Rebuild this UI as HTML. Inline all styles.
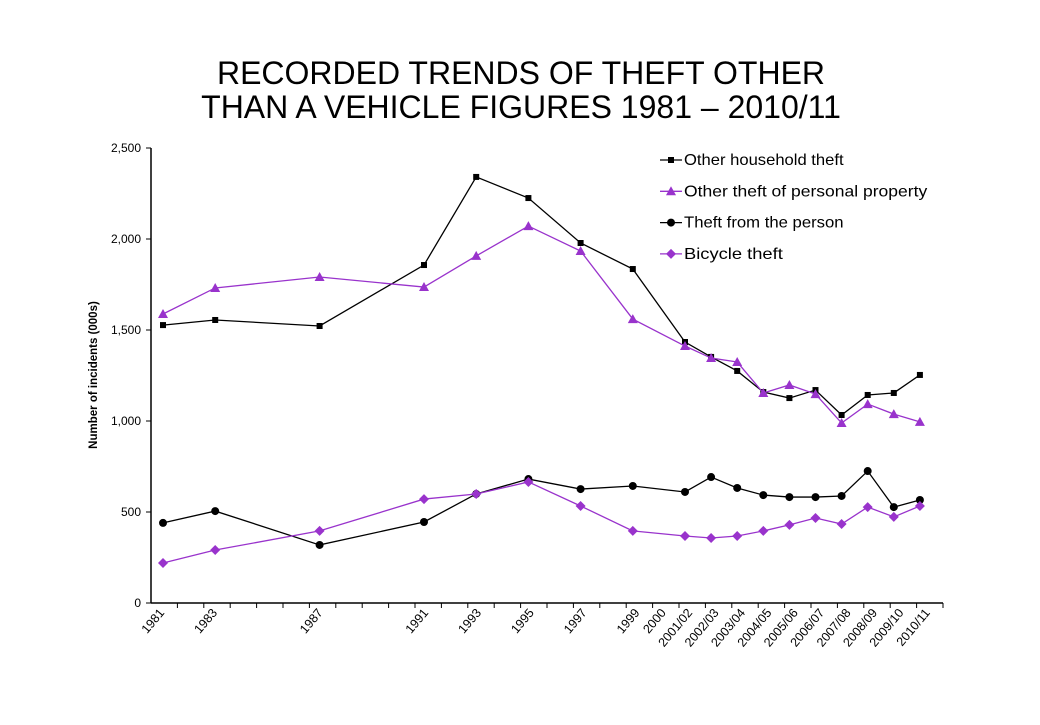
<!DOCTYPE html>
<html><head><meta charset="utf-8"><style>
body{margin:0;background:#fff;font-family:"Liberation Sans",sans-serif}
</style></head><body>
<svg width="1040" height="720" font-family="Liberation Sans, sans-serif">
<text x="521" y="84" text-anchor="middle" font-size="32">RECORDED TRENDS OF THEFT OTHER</text>
<text x="521" y="118" text-anchor="middle" font-size="32">THAN A VEHICLE FIGURES 1981 – 2010/11</text>
<g id="plot"></g>
</svg>
<script>
const slotIdx=[0,2,6,10,12,14,16,18,20,21,22,23,24,25,26,27,28,29];
const tickLabels=["1981","1983","1987","1991","1993","1995","1997","1999","2000","2001/02","2002/03","2003/04","2004/05","2005/06","2006/07","2007/08","2008/09","2009/10","2010/11"];
const tickSlots=[0,2,6,10,12,14,16,18,19,20,21,22,23,24,25,26,27,28,29];
const household=[1527,1555,1522,1857,2341,2225,1978,1835,1434,1352,1275,1159,1126,1170,1033,1143,1154,1253];
const personal=[1588,1731,1791,1736,1907,2071,1934,1560,1412,1346,1324,1154,1198,1148,989,1093,1038,995];
const person=[440,505,319,445,599,681,626,643,610,692,632,593,582,582,588,725,527,566];
const bicycle=[220,291,396,571,599,665,533,396,368,357,368,396,429,467,434,527,473,533];
const yTicks=[0,500,1000,1500,2000,2500];
const NS="http://www.w3.org/2000/svg";
const g=document.getElementById('plot');
const X=i=>163+i*26.1, T=k=>151+k*26.4, Y=v=>603-v*0.182;
function mk(t,a,p){const e=document.createElementNS(NS,t);for(const k in a)e.setAttribute(k,a[k]);(p||g).appendChild(e);return e;}
let e=mk('line',{x1:151,y1:148,x2:151,y2:603,stroke:'#000','stroke-width':1.5});

e=mk('line',{x1:151,y1:603,x2:943,y2:603,stroke:'#000','stroke-width':1.5});

yTicks.forEach(v=>{mk('line',{x1:146,y1:Y(v),x2:151,y2:Y(v),stroke:'#000'});
 const t=mk('text',{x:141,y:Y(v)+4,'text-anchor':'end','font-size':12});t.textContent=v.toLocaleString('en-US');
 });
for(let k=1;k<=30;k++)mk('line',{x1:T(k),y1:603,x2:T(k),y2:608,stroke:'#000'});
tickLabels.forEach((s,j)=>{const x=T(tickSlots[j])+14,y=613;
 const t=mk('text',{x:x,y:y,'text-anchor':'end','font-size':12.5,transform:`rotate(-50 ${x} ${y})`});t.textContent=s;
 });
const yl=mk('text',{x:97,y:375,'text-anchor':'middle','font-size':11.5,'font-weight':'bold',transform:'rotate(-90 97 375)'});
yl.textContent='Number of incidents (000s)';

function marker(type,x,y,c,p){
 if(type==='sq')return mk('rect',{x:x-3,y:y-3,width:6,height:6,fill:c},p);
 if(type==='tri')return mk('polygon',{points:`${x},${y-5} ${x-5},${y+4} ${x+5},${y+4}`,fill:c},p);
 if(type==='circ')return mk('circle',{cx:x,cy:y,r:4,fill:c},p);
 return mk('polygon',{points:`${x},${y-5} ${x+5},${y} ${x},${y+5} ${x-5},${y}`,fill:c},p);}
const series=[[household,'#000','sq','Other household theft','series-household'],
[personal,'#9933cc','tri','Other theft of personal property','series-personal'],
[person,'#000','circ','Theft from the person','series-person'],
[bicycle,'#9933cc','dia','Bicycle theft','series-bicycle']];
series.forEach(([d,c,m,name,dn],si)=>{
 const grp=mk('g',{});
 mk('polyline',{points:d.map((v,i)=>X(slotIdx[i])+','+Y(v)).join(' '),fill:'none',stroke:c,'stroke-width':1.3},grp);
 d.forEach((v,i)=>marker(m,X(slotIdx[i]),Y(v),c,grp));
 const ly=160+si*31.3;
 const lg=mk('g',{});
 mk('line',{x1:660,y1:ly,x2:682,y2:ly,stroke:c,'stroke-width':1.3},lg);marker(m,671,ly,c,lg);
 const t=mk('text',{x:684,y:ly+5,'font-size':16,textLength:name.length*7.6,lengthAdjust:'spacingAndGlyphs'},lg);t.textContent=name;});
</script>
</body></html>
